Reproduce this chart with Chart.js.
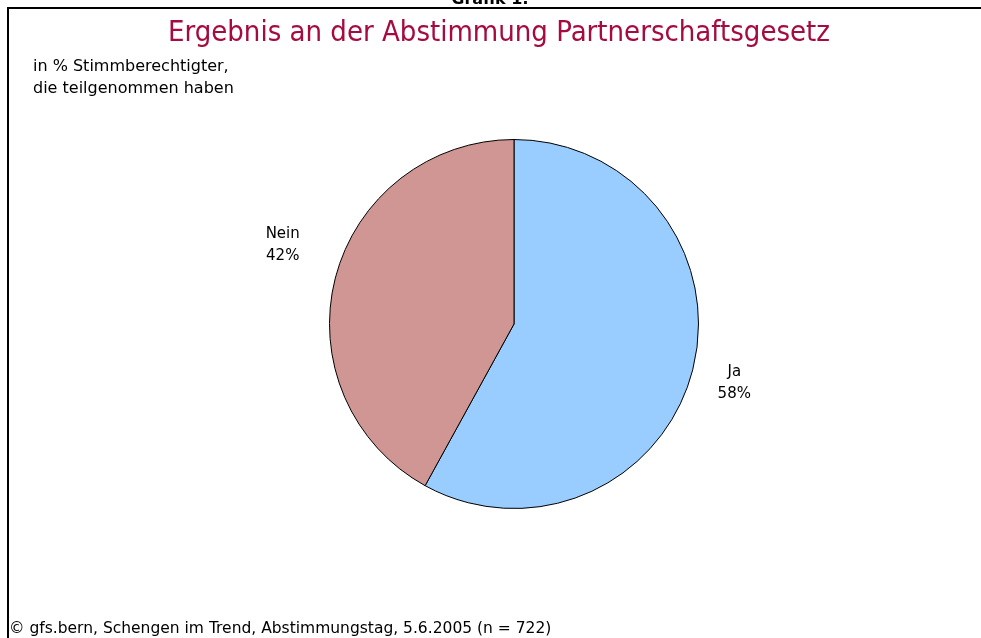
<!DOCTYPE html>
<html>
<head>
<meta charset="utf-8">
<script src="https://cdn.jsdelivr.net/npm/chart.js@4"></script>
<style>
  html, body { margin: 0; padding: 0; background: #fff; }
  #wrap { width: 981px; height: 638px; }
</style>
</head>
<body>
<div id="wrap"><canvas id="pieChart" width="981" height="638"></canvas></div>
<script>
/* Ergebnis Abstimmung Partnerschaftsgesetz — pie */
var categories = ['Ja', 'Nein'];
var shares = [58, 42];
var sliceColors = ['#99CCFF', '#D09694'];

var headline = 'Grafik 1:';
var title = 'Ergebnis an der Abstimmung Partnerschaftsgesetz';
var subtitle = ['in % Stimmberechtigter,', 'die teilgenommen haben'];
var footer = '\u00A9 gfs.bern, Schengen im Trend, Abstimmungstag, 5.6.2005 (n = 722)';

var bodyFont = '"DejaVu Sans", Tahoma, sans-serif';
// small nudges so the labels sit where the original put them
var labelNudge = [{ dx: -2, dy: 2 }, { dx: -9, dy: -22 }];

// frame + all texts around the pie
var decor = {
    id: 'decor',
    beforeDraw: function (chart) {
        var ctx = chart.ctx;
        ctx.save();
        ctx.strokeStyle = '#000';
        ctx.lineWidth = 2;
        ctx.beginPath();
        ctx.moveTo(7, 8); ctx.lineTo(981, 8);
        ctx.moveTo(8, 7); ctx.lineTo(8, 638);
        ctx.stroke();

        ctx.fillStyle = '#000';
        ctx.textAlign = 'center';
        ctx.textBaseline = 'alphabetic';
        ctx.font = 'bold 16px ' + bodyFont;
        ctx.fillText(headline, 490, 4);

        ctx.fillStyle = '#A50B3F';
        ctx.font = '29px "DejaVu Sans Condensed", sans-serif';
        ctx.fillText(title, 499, 41);

        ctx.fillStyle = '#000';
        ctx.textAlign = 'left';
        ctx.font = '16px ' + bodyFont;
        ctx.fillText(subtitle[0], 33, 71);
        ctx.fillText(subtitle[1], 33, 93);

        ctx.font = '15.5px ' + bodyFont;
        ctx.fillText(footer, 9, 633);
        ctx.restore();
    },
    afterDatasetsDraw: function (chart) {
        var ctx = chart.ctx;
        var meta = chart.getDatasetMeta(0);
        ctx.save();
        ctx.fillStyle = '#000';
        ctx.font = '15px ' + bodyFont;
        ctx.textAlign = 'center';
        ctx.textBaseline = 'middle';
        meta.data.forEach(function (arc, i) {
            var p = arc.getProps(['x', 'y', 'startAngle', 'endAngle', 'outerRadius'], true);
            var mid = (p.startAngle + p.endAngle) / 2;
            var r = p.outerRadius + 45;
            var x = p.x + Math.cos(mid) * r + labelNudge[i].dx;
            var y = p.y + Math.sin(mid) * r + labelNudge[i].dy;
            ctx.fillText(categories[i], x, y - 11);
            ctx.fillText(shares[i] + '%', x, y + 11);
        });
        ctx.restore();
    }
};

new Chart(document.getElementById('pieChart'), {
    type: 'pie',
    data: {
        labels: categories,
        datasets: [{
            data: shares,
            backgroundColor: sliceColors,
            borderColor: '#000',
            borderWidth: 1
        }]
    },
    options: {
        responsive: false,
        animation: false,
        layout: { padding: { top: 139, bottom: 129, left: 300, right: 253 } },
        plugins: {
            legend: { display: false },
            tooltip: { enabled: false }
        }
    },
    plugins: [decor]
});
</script>
</body>
</html>
